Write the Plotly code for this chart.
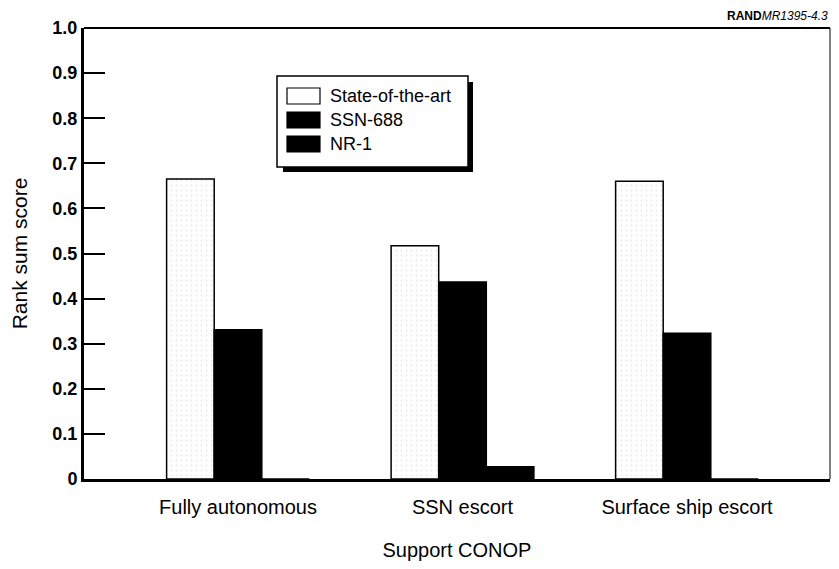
import plotly.graph_objects as go

# data
categories = ["Fully autonomous", "SSN escort", "Surface ship escort"]
series_names = ["State-of-the-art", "SSN-688", "NR-1"]
state_of_the_art = [0.665, 0.517, 0.660]
ssn_688 = [0.331, 0.437, 0.323]
nr_1 = [0.0, 0.027, 0.0]
y_tickvals = [0, 0.1, 0.2, 0.3, 0.4, 0.5, 0.6, 0.7, 0.8, 0.9, 1.0]
y_ticktext = ["0", "0.1", "0.2", "0.3", "0.4", "0.5", "0.6", "0.7", "0.8", "0.9", "1.0"]

# the page body has an 8px margin on every side; keep the figure inside the window
OFF = 8
W, H = 839 - 2 * OFF, 569 - 2 * OFF
L, R, T, B = 76, 1, 20, 82
FONT = "Liberation Sans, Arial, Helvetica, sans-serif"


def px_x(p):
    # window pixel -> paper fraction
    return (p - OFF - L) / (W - L - R)


def px_y(p):
    return (H - B - (p - OFF)) / (H - T - B)


fig = go.Figure()
fig.add_bar(x=categories, y=state_of_the_art, name=series_names[0],
            marker=dict(color="white", line=dict(color="black", width=1.5),
                        pattern=dict(shape=".", fgcolor="#d0d0d0", bgcolor="white",
                                     size=5, solidity=0.1)))
fig.add_bar(x=categories, y=ssn_688, name=series_names[1],
            marker=dict(color="black", line=dict(color="black", width=1.5)))
fig.add_bar(x=categories, y=nr_1, name=series_names[2],
            marker=dict(color="black", line=dict(color="black", width=1.5)))

shapes = []
# top and right frame lines
shapes.append(dict(type="line", xref="paper", yref="paper", x0=0, x1=1, y0=1, y1=1,
                   line=dict(color="black", width=2)))
shapes.append(dict(type="line", xref="paper", yref="paper", x0=1, x1=1, y0=0, y1=1,
                   line=dict(color="black", width=1)))

# hand-drawn legend box with drop shadow
lx0, lx1, ly0, ly1 = 277, 468, 76, 167
shapes.append(dict(type="rect", xref="paper", yref="paper", layer="above",
                   x0=px_x(lx0 + 6), x1=px_x(lx1 + 5), y0=px_y(ly1 + 5), y1=px_y(ly0 + 6),
                   fillcolor="black", line=dict(width=0)))
shapes.append(dict(type="rect", xref="paper", yref="paper", layer="above",
                   x0=px_x(lx0), x1=px_x(lx1), y0=px_y(ly1), y1=px_y(ly0),
                   fillcolor="white", line=dict(color="black", width=1.5)))
annotations = []
swatch_fill = ["white", "black", "black"]
row_centers = [96, 120, 144]
for name, fill, cy in zip(series_names, swatch_fill, row_centers):
    shapes.append(dict(type="rect", xref="paper", yref="paper", layer="above",
                       x0=px_x(287), x1=px_x(320), y0=px_y(cy + 8), y1=px_y(cy - 8),
                       fillcolor=fill, line=dict(color="black", width=1.2)))
    annotations.append(dict(xref="paper", yref="paper", x=px_x(328), y=px_y(cy),
                            xanchor="left", yanchor="middle", showarrow=False,
                            text=name, font=dict(family=FONT, size=18, color="black")))

annotations.append(dict(xref="paper", yref="paper", x=1, y=px_y(16), xanchor="right",
                        yanchor="middle", showarrow=False,
                        text="<b>RAND</b><i>MR1395-4.3</i>",
                        font=dict(family=FONT, size=12, color="black")))

fig.update_layout(
    width=W, height=H,
    margin=dict(l=L, r=R, t=T, b=B),
    paper_bgcolor="white", plot_bgcolor="white",
    barmode="group", bargap=0.364, bargroupgap=0,
    showlegend=False,
    shapes=shapes, annotations=annotations,
    font=dict(family=FONT, color="black"),
)
fig.update_xaxes(type="category", range=[-0.686, 2.637],
                 showline=True, linewidth=3, linecolor="black",
                 ticks="", showgrid=False, zeroline=False,
                 tickfont=dict(family=FONT, size=20, color="black"),
                 ticklabelstandoff=8,
                 title=dict(text="Support CONOP", standoff=28,
                            font=dict(family=FONT, size=20, color="black")))
fig.update_yaxes(range=[0, 1.0], tickvals=y_tickvals, ticktext=y_ticktext,
                 showline=True, linewidth=3, linecolor="black",
                 ticks="inside", ticklen=21, tickwidth=2, tickcolor="black",
                 showgrid=False, zeroline=False,
                 tickfont=dict(family=FONT, size=18, color="black", weight="bold"),
                 title=dict(text="Rank sum score", standoff=24,
                            font=dict(family=FONT, size=21, color="black")))

fig.write_html("out.html")
